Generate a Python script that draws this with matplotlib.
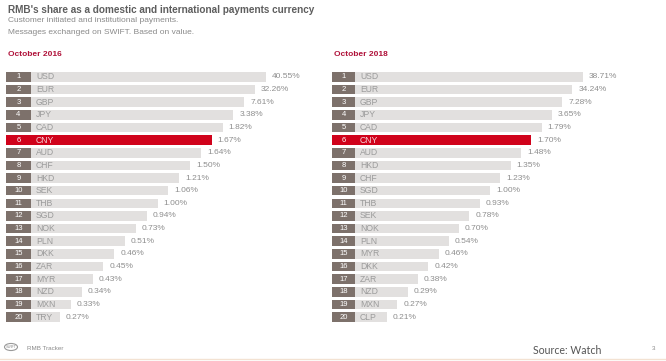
import matplotlib.pyplot as plt
from matplotlib.patches import Circle

plt.rcParams['font.family'] = ['Liberation Sans', 'DejaVu Sans']

ranks = list(range(1, 21))

cur_2016 = ["USD", "EUR", "GBP", "JPY", "CAD", "CNY", "AUD", "CHF", "HKD", "SEK",
            "THB", "SGD", "NOK", "PLN", "DKK", "ZAR", "MYR", "NZD", "MXN", "TRY"]
share_2016 = [40.55, 32.26, 7.61, 3.38, 1.82, 1.67, 1.64, 1.50, 1.21, 1.06,
              1.00, 0.94, 0.73, 0.51, 0.46, 0.45, 0.43, 0.34, 0.33, 0.27]

cur_2018 = ["USD", "EUR", "GBP", "JPY", "CAD", "CNY", "AUD", "HKD", "CHF", "SGD",
            "THB", "SEK", "NOK", "PLN", "MYR", "DKK", "ZAR", "NZD", "MXN", "CLP"]
share_2018 = [38.71, 34.24, 7.28, 3.65, 1.79, 1.70, 1.48, 1.35, 1.23, 1.00,
              0.93, 0.78, 0.70, 0.54, 0.46, 0.42, 0.38, 0.29, 0.27, 0.21]

W, H = 666, 361
BOX = '#7d716b'
BAR = '#e2e0df'
RED = '#d0021b'
GRAY = '#9b9b9b'

fig = plt.figure(figsize=(W / 100, H / 100), dpi=100)
fig.patch.set_facecolor('white')


def panel(x0, box_w, base, step, cur, share, title):
    # axes in pixel units; rows on y
    top, bottom = 70.5, 323.5
    ax = fig.add_axes([x0 / W, 1 - bottom / H, 320 / W, (bottom - top) / H])
    ax.set_xlim(0, 320)
    ax.set_ylim(20.5, 0.5)
    ax.axis('off')
    # infographic: bar length falls by rank, not by value
    lengths = [base + (20 - r) * step for r in ranks]
    hi = [c == "CNY" for c in cur]
    ax.barh(ranks, box_w, left=0, height=0.76,
            color=[RED if h else BOX for h in hi])
    ax.barh(ranks, lengths, left=box_w, height=0.76,
            color=[RED if h else BAR for h in hi])
    for r, c, s, L, h in zip(ranks, cur, share, lengths, hi):
        ax.text(box_w / 2, r, str(r), ha='center', va='center',
                fontsize=5.5, color='white')
        ax.text(box_w + 5, r, c, ha='left', va='center', fontsize=6.2,
                color='#f6d6da' if h else GRAY)
        ax.text(box_w + L + 6, r, f"{s:.2f}%", ha='left', va='center',
                fontsize=6, color='#8e8e8e')
    fig.text((x0 + 2) / W, 1 - 55 / H, title, ha='left', va='center',
             fontsize=6, fontweight='bold', color='#b0123a')


panel(6, 25, 29, 10.84, cur_2016, share_2016, "October 2016")
panel(332, 23, 32, 10.3, cur_2018, share_2018, "October 2018")

fig.text(8 / W, 1 - 10 / H, "RMB's share as a domestic and international payments currency",
         ha='left', va='center', fontsize=7.2, fontweight='bold', color='#5e5e5e')
fig.text(8 / W, 1 - 21 / H, "Customer initiated and institutional payments.",
         ha='left', va='center', fontsize=6, color='#8a8a8a')
fig.text(8 / W, 1 - 32 / H, "Messages exchanged on SWIFT. Based on value.",
         ha='left', va='center', fontsize=6, color='#8a8a8a')

# footer
fig.add_artist(Circle((11 / W, 1 - 347 / H), 6.5 / W, transform=fig.transFigure,
                      fill=False, edgecolor='#9a9a9a', linewidth=0.8))
fig.text(11 / W, 1 - 347 / H, "SWIFT", ha='center', va='center', fontsize=2.5, color='#8a8a8a')
fig.text(27 / W, 1 - 348 / H, "RMB Tracker", ha='left', va='center', fontsize=4.5, color='#8a8a8a')
fig.text(533 / W, 1 - 351 / H, "Source: Watch", ha='left', va='center',
         fontsize=7.6, color='#555555', family=['Lato', 'DejaVu Sans'])
fig.text(652 / W, 1 - 348 / H, "3", ha='left', va='center', fontsize=4.5, color='#8a8a8a')
fig.add_artist(plt.Line2D([0, 1], [1 - 359 / H, 1 - 359 / H], transform=fig.transFigure,
                          color='#f3e2d2', linewidth=1))

fig.savefig('out.png', dpi=100)
